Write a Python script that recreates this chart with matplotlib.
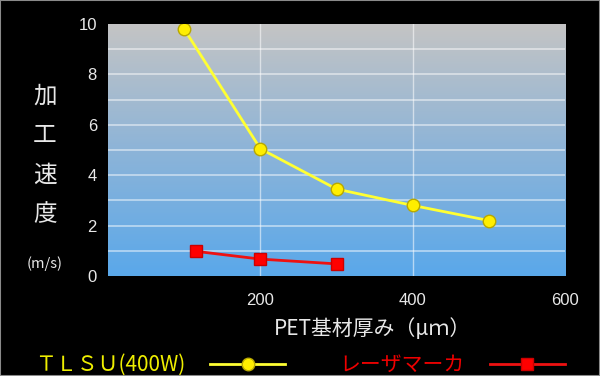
import numpy as np
import matplotlib.pyplot as plt
from matplotlib.colors import LinearSegmentedColormap
from matplotlib.patches import Rectangle

plt.rcParams['font.family'] = ['Noto Sans CJK JP', 'DejaVu Sans']

# data
tlsu_x = [100, 200, 300, 400, 500]
tlsu_y = [9.8, 5.05, 3.45, 2.8, 2.2]
laser_x = [115, 200, 300]
laser_y = [0.98, 0.67, 0.48]
x_ticks = [200, 400, 600]
y_ticks = [0, 2, 4, 6, 8, 10]
ylabel_chars = ['加', '工', '速', '度']

fig = plt.figure(figsize=(6, 3.76), dpi=100, facecolor='black')
fig.patches.append(Rectangle((0, 0), 1, 1, transform=fig.transFigure,
                             fill=False, edgecolor='#8a8a8a', linewidth=1.5))
ax = fig.add_axes([0.18, 0.266, 0.762, 0.67])
ax.set_facecolor('black')

# vertical gradient background, grey at top to blue at bottom
cmap = LinearSegmentedColormap.from_list('bg', ['#5aa8ea', '#8db4d8', '#c4c4c4'])
grad = np.linspace(0, 1, 256).reshape(-1, 1)
ax.imshow(grad, cmap=cmap, origin='lower', extent=[0, 600, 0, 10],
          aspect='auto', zorder=0)

ax.set_xlim(0, 600)
ax.set_ylim(0, 10)
for y in range(1, 10):
    ax.axhline(y, color='white', alpha=0.55, linewidth=1.2, zorder=1)
for x in [200, 400]:
    ax.axvline(x, color='white', alpha=0.55, linewidth=1.0, zorder=1)

ax.plot(tlsu_x, tlsu_y, color='#ffff33', linewidth=2, marker='o', markersize=9,
        markerfacecolor='#ffee00', markeredgecolor='#b8a800', zorder=3,
        label='ＴＬＳＵ(400W)')
ax.plot(laser_x, laser_y, color='#ee1111', linewidth=2, marker='s', markersize=9,
        markerfacecolor='#ff0000', markeredgecolor='#cc0000', zorder=3,
        label='レーザマーカ')

ax.set_xticks(x_ticks)
ax.set_yticks(y_ticks)
ax.tick_params(colors='#e8e8e8', labelsize=12, length=0)
ax.tick_params(axis='x', pad=12)
ax.tick_params(axis='y', pad=8)
for lab in ax.get_xticklabels() + ax.get_yticklabels():
    lab.set_family(['Liberation Sans', 'DejaVu Sans'])
for s in ax.spines.values():
    s.set_visible(False)

ax.set_xlabel('PET基材厚み（μｍ）', color='#e8e8e8', fontsize=15)
ax.xaxis.set_label_coords(0.578, -0.165)

for i, ch in enumerate(ylabel_chars):
    fig.text(0.075, 0.745 - i * 0.105, ch, color='#e8e8e8', fontsize=17,
             ha='center', va='center')
fig.text(0.075, 0.30, '(m/s)', color='#e8e8e8', fontsize=10.5,
         ha='center', va='center')

leg = fig.legend(loc='lower center', bbox_to_anchor=(0.5, -0.05), ncol=2,
                 frameon=False, markerfirst=False, fontsize=15,
                 handlelength=3.6, columnspacing=2.6, handletextpad=1.2)
leg.get_texts()[0].set_color('#eeee00')
leg.get_texts()[1].set_color('#ee0000')

fig.savefig('out.png', dpi=100, facecolor='black')
